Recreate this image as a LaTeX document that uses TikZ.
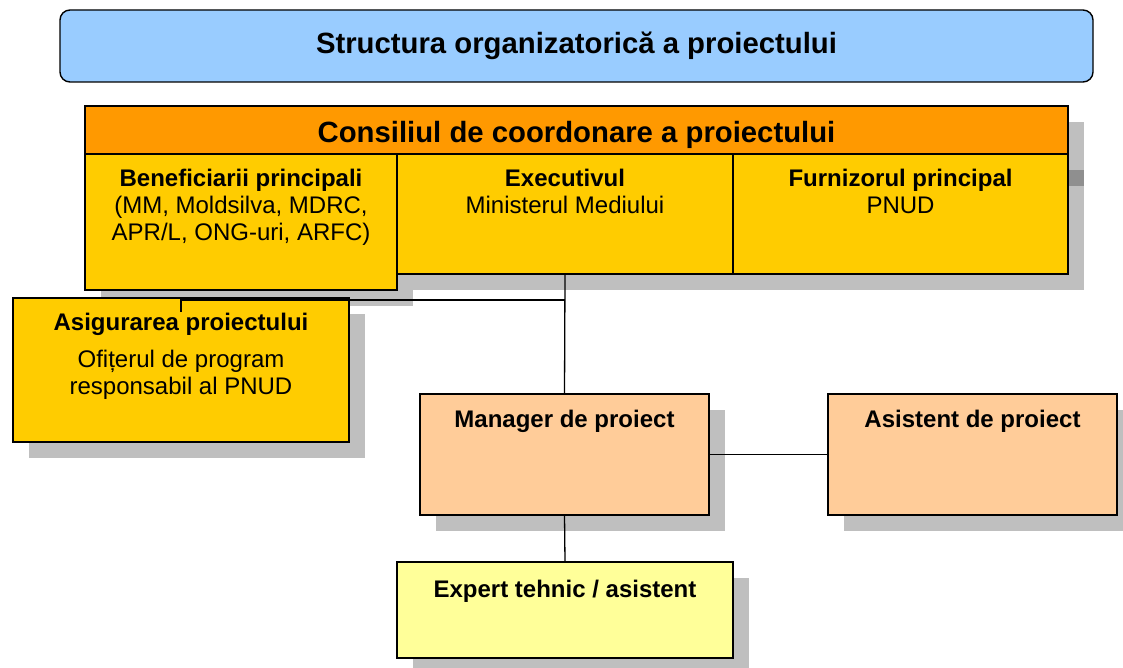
\documentclass[tikz,border=0pt]{standalone}
\usepackage{fontspec}
\setmainfont{Liberation Sans}
\usetikzlibrary{shadows}
\definecolor{albastru}{HTML}{99CCFF}
\definecolor{portocaliu}{HTML}{FF9900}
\definecolor{galben}{HTML}{FFCC00}
\definecolor{piersica}{HTML}{FFCC99}
\definecolor{galbendeschis}{HTML}{FFFF99}
\setlength{\tabcolsep}{0pt}
\begin{document}
\begin{tikzpicture}[x=1pt,y=-1pt,
    cutie/.style={draw=black,line width=1.4pt,anchor=north west,inner sep=0pt,outer sep=0pt},
    umbra/.style={drop shadow={shadow xshift=16pt,shadow yshift=-16pt,fill=black,opacity=0.25}},
    eticheta/.style={anchor=base,inner sep=0pt,font=\fontsize{24}{27}\selectfont},
    mare/.style={inner sep=0pt,font=\fontsize{29.3}{33}\selectfont\bfseries},
    legatura/.style={line width=1.3pt}]
    \useasboundingbox (0,0) rectangle (1123,668);
    % titlul
    \node[cutie,fill=albastru,rounded corners=10pt,minimum width=1033pt,minimum height=72pt] (titlu) at (60,10) {};
    \node[mare] (tTitlu) at (titlu.center) {Structura organizatorică a proiectului};
    % consiliul
    \node[cutie,umbra,fill=portocaliu,minimum width=983pt,minimum height=64pt] (consiliu) at (85,106) {};
    \node[mare,anchor=base] (tConsiliu) at ([yshift=-37pt]consiliu.north) {Consiliul de coordonare a proiectului};
    \node[cutie,umbra,fill=galben,minimum width=312pt,minimum height=136pt] (benef) at (85,154) {}; %Beneficiarii
    \node[cutie,umbra,fill=galben,minimum width=336pt,minimum height=120pt] (exec) at (397,154) {}; %Executivul
    \node[cutie,umbra,fill=galben,minimum width=335pt,minimum height=120pt] (furn) at (733,154) {}; %Furnizorul
    \node[eticheta] (tBenef) at ([yshift=-33pt]benef.north) {\begin{tabular}[t]{c}\textbf{Beneficiarii principali}\\(MM, Moldsilva, MDRC,\\APR/L, ONG-uri, ARFC)\end{tabular}};
    \node[eticheta] (tExec) at ([yshift=-33pt]exec.north) {\begin{tabular}[t]{c}\textbf{Executivul}\\Ministerul Mediului\end{tabular}};
    \node[eticheta] (tFurn) at ([yshift=-33pt]furn.north) {\begin{tabular}[t]{c}\textbf{Furnizorul principal}\\PNUD\end{tabular}};
    % asigurarea
    \node[cutie,umbra,fill=galben,minimum width=336pt,minimum height=144pt] (asig) at (13,298) {};
    \node[eticheta] (tAsig) at ([yshift=-32pt]asig.north) {\begin{tabular}[t]{c}\textbf{Asigurarea proiectului}\\[10pt]Ofițerul de program\\responsabil al PNUD\end{tabular}};
    % echipa
    \node[cutie,umbra,fill=piersica,minimum width=289pt,minimum height=121pt] (manager) at (420,394) {};
    \node[cutie,umbra,fill=piersica,minimum width=289pt,minimum height=121pt] (asistent) at (828,394) {};
    \node[cutie,umbra,fill=galbendeschis,minimum width=336pt,minimum height=96pt] (expert) at (397,562) {};
    \node[eticheta] (tManager) at ([yshift=-33pt]manager.north) {\textbf{Manager de proiect}};
    \node[eticheta] (tAsistent) at ([yshift=-33pt]asistent.north) {\textbf{Asistent de proiect}};
    \node[eticheta] (tExpert) at ([yshift=-35pt]expert.north) {\textbf{Expert tehnic / asistent}};
    % legaturi
    \coordinate (ramura) at (exec.south |- asig.north);
    \draw[legatura] (exec.south) -- (manager.north);
    \draw[legatura] ([yshift=-2pt]ramura) -| ([yshift=-14pt]asig.north);
    \draw[legatura] (manager.east) -- (asistent.west);
    \draw[legatura] (manager.south) -- (expert.north);
\end{tikzpicture}
\end{document}
